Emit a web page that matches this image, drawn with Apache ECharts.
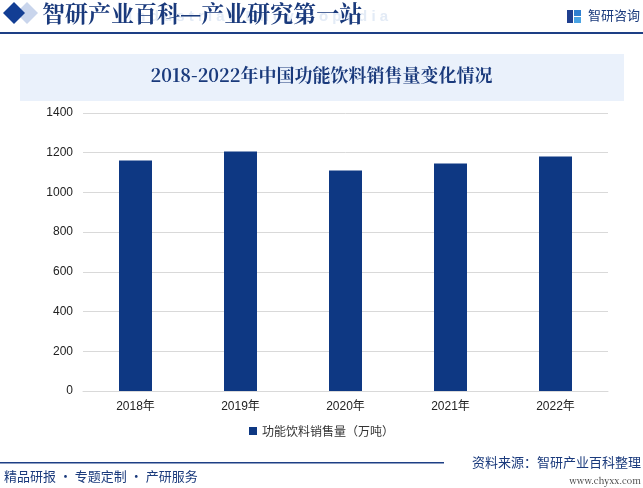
<!DOCTYPE html>
<html>
<head>
<meta charset="utf-8">
<script src="https://cdn.jsdelivr.net/npm/echarts@6/dist/echarts.min.js"></script>
<style>
html,body{margin:0;padding:0;background:#fff;}
#c{width:643px;height:488px;}
</style>
</head>
<body>
<div id="c"></div>
<script>
var categories = ['2018年', '2019年', '2020年', '2021年', '2022年'];
var salesValues = [1161, 1206, 1111, 1146, 1181];
var seriesName = '功能饮料销售量（万吨）';
var yTicks = { min: 0, max: 1400, interval: 200 };
var titleText = '2018-2022年中国功能饮料销售量变化情况';

var chart = echarts.init(document.getElementById('c'), null, { renderer: 'canvas' });
var navy = '#1a3a7c';
var serif = '"Noto Serif CJK SC","Noto Sans CJK SC",serif';
chart.setOption({
  animation: false,
  backgroundColor: '#fff',
  grid: { left: 83, right: 35, top: 113, bottom: 97 },
  legend: {
    bottom: 46, left: 'center',
    itemWidth: 8, itemHeight: 8, itemGap: 4,
    icon: 'rect',
    textStyle: { fontSize: 12, color: '#333', fontFamily: '"Noto Sans CJK SC",sans-serif' },
    data: [seriesName]
  },
  xAxis: {
    type: 'category',
    data: categories,
    axisLine: { lineStyle: { color: '#d9d9d9' } },
    axisTick: { show: false },
    axisLabel: { color: '#222', fontSize: 12, margin: 10, fontFamily: 'Arial,"Liberation Sans","Noto Sans CJK SC",sans-serif' }
  },
  yAxis: {
    type: 'value',
    min: yTicks.min, max: yTicks.max, interval: yTicks.interval,
    axisLine: { show: false },
    axisTick: { show: false },
    axisLabel: { color: '#222', fontSize: 12, margin: 10, fontFamily: 'Arial,"Liberation Sans",sans-serif',
      formatter: function (v) { return String(v); } },
    splitLine: { lineStyle: { color: '#d9d9d9' } }
  },
  series: [{
    name: seriesName,
    type: 'bar',
    data: salesValues,
    barWidth: 33,
    itemStyle: { color: '#0e3883' }
  }],
  graphic: [
    // header diamonds
    { type: 'polygon', shape: { points: [[27,2],[38,13],[27,24],[16,13]] }, style: { fill: '#c9d5ec' } },
    { type: 'polygon', shape: { points: [[14,2],[25,13],[14,24],[3,13]] }, style: { fill: '#123e94' } },
    { type: 'text', left: 128, top: 9, style: { text: 'I n d u s t r i a l   E n c y c l o p e d i a', fill: '#e3ebf6', font: 'bold 15px Arial, sans-serif' } },
    { type: 'text', left: 42, top: 2, style: { text: '智研产业百科—产业研究第一站', fill: navy, font: 'bold 23px ' + serif } },
    // logo
    { type: 'rect', shape: { x: 567, y: 10, width: 6, height: 13 }, style: { fill: '#1f3f8f' } },
    { type: 'rect', shape: { x: 574, y: 10, width: 7, height: 6 }, style: { fill: '#2f7fd0' } },
    { type: 'rect', shape: { x: 574, y: 17, width: 7, height: 6 }, style: { fill: '#4aa3e3' } },
    { type: 'text', left: 588, top: 9, style: { text: '智研咨询', fill: navy, font: '13px "Noto Sans CJK SC", sans-serif' } },
    { type: 'rect', shape: { x: 0, y: 32, width: 643, height: 2 }, style: { fill: '#1d3f85' } },
    // title band
    { type: 'rect', shape: { x: 20, y: 54, width: 604, height: 47 }, style: { fill: '#eaf1fb' } },
    { type: 'text', left: 'center', top: 66, style: { text: titleText, fill: navy, font: 'bold 18px ' + serif, textAlign: 'center' } },
    // footer
    { type: 'rect', shape: { x: 0, y: 462, width: 444, height: 1.5 }, style: { fill: '#1d3f85' } },
    { type: 'text', left: 4, top: 470, style: { text: '精品研报 · 专题定制 · 产研服务', fill: navy, font: '13px "Noto Sans CJK SC", sans-serif' } },
    { type: 'text', right: 2, top: 456, style: { text: '资料来源：智研产业百科整理', fill: navy, font: '13px "Noto Sans CJK SC", sans-serif' } },
    { type: 'text', right: 2, top: 476, style: { text: 'www.chyxx.com', fill: '#333', font: '9px ' + serif } }
  ]
});
</script>
</body>
</html>
